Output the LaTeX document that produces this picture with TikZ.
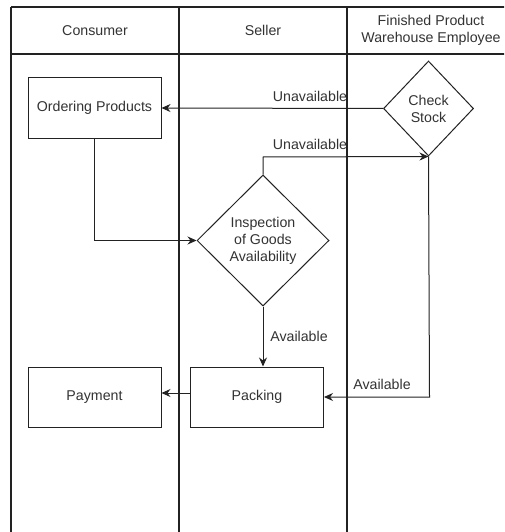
\documentclass[tikz,border=0pt]{standalone}
\usepackage{fontspec}
\setmainfont{Liberation Sans}
\usetikzlibrary{shapes.geometric,arrows.meta}
\definecolor{ink}{HTML}{222222}
\definecolor{txt}{HTML}{333333}
\tikzset{
  lane/.style={draw=ink, line width=1.1pt},
  stepbox/.style={draw=ink, line width=1pt, rectangle, minimum width=133pt, minimum height=60pt,
    inner sep=0pt, text=txt, font=\fontsize{14.2}{17}\selectfont},
  decision/.style={draw=ink, line width=1pt, diamond, inner sep=0pt, text=txt, align=center,
    font=\fontsize{14.2}{17}\selectfont},
  head/.style={text=txt, align=center, font=\fontsize{14.2}{17}\selectfont},
  flow/.style={draw=ink, line width=1pt, -{Stealth[length=9pt,width=8pt]}},
  lbl/.style={text=txt, inner sep=0pt, font=\fontsize{14.2}{17}\selectfont},
}
\begin{document}
\begin{tikzpicture}[x=1pt,y=-1pt]
\useasboundingbox (0,0) rectangle (504,532);
\fill[white] (0,0) rectangle (504,532);
\begin{scope}
\clip (0,0) rectangle (504,532);
% swimlane frame
\draw[lane] (11,7) -- (520,7);
\draw[lane] (11,54) -- (520,54);
\draw[lane] (11,7) -- (11,540);
\draw[lane] (179,7) -- (179,540);
\draw[lane] (347,7) -- (347,540);
\end{scope}
% lane titles
\node[head] (h1) at (95,30.5) {Consumer};
\node[head] (h2) at (263,30.5) {Seller};
\node[head] (h3) at (431,30.5) {Finished Product\\Warehouse Employee};
% steps
\node[stepbox] (order) at (94.5,108) {Ordering Products};
\node[stepbox] (pay) at (94.5,397) {Payment};
\node[stepbox] (pack) at (257,397) {Packing};
\node[decision, minimum width=90pt, minimum height=95pt] (stock) at (428.5,108.5) {Check\\Stock};
\node[decision, minimum width=132pt, minimum height=131pt] (insp) at (263,240.5) {Inspection\\of Goods\\Availability};
% bends
\coordinate (b1) at (94.5,240.5);
\coordinate (b2) at (263,157);
\coordinate (b3) at (429.5,397);
% connectors
\draw[flow] (stock.west) -- (order.east);
\node[lbl] (l1) at (310,96) {Unavailable};
\draw[flow] (order.south) -- (b1) -- (insp.west);
\draw[flow] (insp.north) -- (b2) -- (stock.south);
\node[lbl] (l2) at (310,144) {Unavailable};
\draw[flow] (insp.south) -- (insp.south |- pack.north);
\node[lbl] (l3) at (299,336) {Available};
\draw[flow] (stock.south) -- (b3) -- (pack.east);
\node[lbl] (l4) at (382,384) {Available};
\draw[flow] ([yshift=4pt]pack.west) -- ([yshift=4pt]pay.east);
\end{tikzpicture}
\end{document}
